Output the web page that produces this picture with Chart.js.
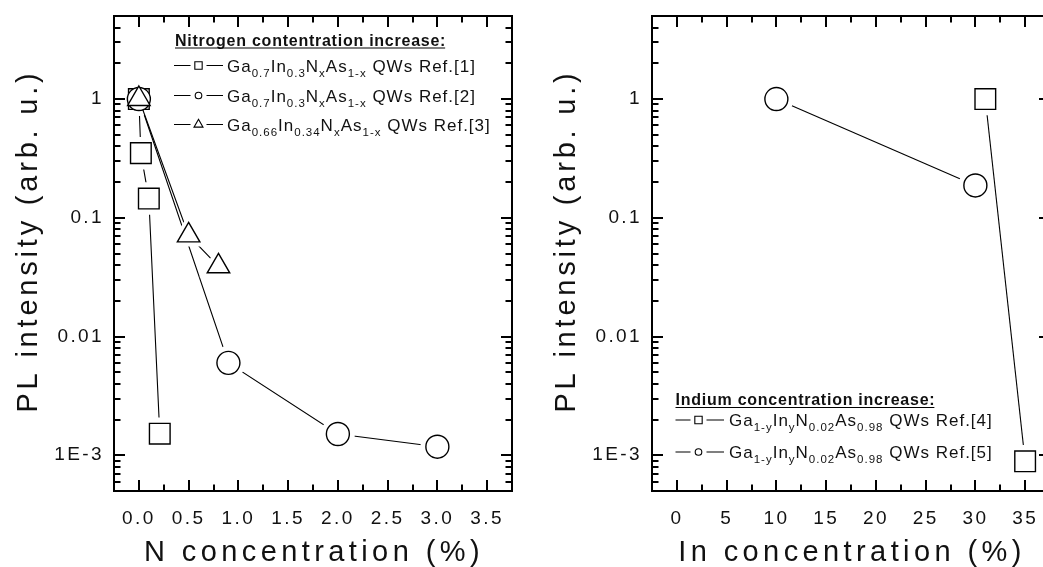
<!DOCTYPE html>
<html>
<head>
<meta charset="utf-8">
<script src="https://cdn.jsdelivr.net/npm/chart.js@4/dist/chart.umd.min.js"></script>
<style>
  html, body { margin: 0; padding: 0; background: #fff; overflow: hidden; width: 1043px; height: 567px; }
  #wrap { position: relative; width: 1043px; height: 567px; overflow: hidden; }
  canvas { position: absolute; top: 0; }
  #nPanel { left: 0; }
  #inPanel { left: 538px; }
</style>
</head>
<body>
<div id="wrap">
  <canvas id="nPanel" width="520" height="567"></canvas>
  <canvas id="inPanel" width="520" height="567"></canvas>
</div>
<script>
// PL intensity vs nitrogen content (Ga(In)NAs quantum wells)
const nitrogenRef1X = [0, 0.02, 0.1, 0.21];
const nitrogenRef1Y = [1, 0.35, 0.145, 0.00152];
const nitrogenRef2X = [0, 0.9, 2.0, 3.0];
const nitrogenRef2Y = [1, 0.006, 0.00151, 0.00118];
const nitrogenRef3X = [0, 0.5, 0.8];
const nitrogenRef3Y = [1, 0.071, 0.039];

// PL intensity vs indium content
const indiumRef4X = [31, 35];
const indiumRef4Y = [1, 0.00089];
const indiumRef5X = [10, 30];
const indiumRef5Y = [1, 0.187];

// Axis ticks
const yTickValues = [0.001, 0.01, 0.1, 1];
const yTickLabels = ['1E-3', '0.01', '0.1', '1'];
const nTickValues = [0, 0.5, 1, 1.5, 2, 2.5, 3, 3.5];
const nTickLabels = ['0.0', '0.5', '1.0', '1.5', '2.0', '2.5', '3.0', '3.5'];
const inTickValues = [0, 5, 10, 15, 20, 25, 30, 35];
const inTickLabels = ['0', '5', '10', '15', '20', '25', '30', '35'];

// Legend texts: [text, isSubscript]
const nitrogenLegendTitle = 'Nitrogen contentration increase:';
const nitrogenLegendRows = [
  [['Ga'], ['0.7', 1], ['In'], ['0.3', 1], ['N'], ['x', 1], ['As'], ['1-x', 1], [' QWs Ref.[1]']],
  [['Ga'], ['0.7', 1], ['In'], ['0.3', 1], ['N'], ['x', 1], ['As'], ['1-x', 1], [' QWs Ref.[2]']],
  [['Ga'], ['0.66', 1], ['In'], ['0.34', 1], ['N'], ['x', 1], ['As'], ['1-x', 1], [' QWs Ref.[3]']]
];
const indiumLegendTitle = 'Indium concentration increase:';
const indiumLegendRows = [
  [['Ga'], ['1-y', 1], ['In'], ['y', 1], ['N'], ['0.02', 1], ['As'], ['0.98', 1], [' QWs Ref.[4]']],
  [['Ga'], ['1-y', 1], ['In'], ['y', 1], ['N'], ['0.02', 1], ['As'], ['0.98', 1], [' QWs Ref.[5]']]
];

const FONT = "'Liberation Sans', Arial, Helvetica, sans-serif";
const INK = '#111';

function pts(xs, ys) { return xs.map((x, i) => ({ x, y: ys[i] })); }

// Each series: connecting line, a white knock-out under the symbols (gaps in the line), then the symbols.
function seriesDatasets(xs, ys, style, r, haloR, rank) {
  const data = pts(xs, ys);
  return [
    { data, showLine: true, pointRadius: 0, borderColor: '#000', borderWidth: 1.1, order: 100 - rank * 2 },
    { data, showLine: false, pointStyle: style, pointRadius: haloR, pointBackgroundColor: '#fff',
      pointBorderColor: '#fff', pointBorderWidth: 0, order: 99 - rank * 2 },
    { data, showLine: false, pointStyle: style, pointRadius: r, pointBackgroundColor: '#fff',
      pointBorderColor: '#000', pointBorderWidth: 1.4, order: 10 - rank }
  ];
}

function setSpacing(ctx, px) { if ('letterSpacing' in ctx) ctx.letterSpacing = px + 'px'; }

function drawRich(ctx, parts, x, y) {
  let cx = x;
  for (const [t, sub] of parts) {
    ctx.font = (sub ? '11.5px ' : '17px ') + FONT;
    setSpacing(ctx, 1);
    ctx.fillText(t, cx, sub ? y + 5 : y);
    cx += ctx.measureText(t).width;
  }
}

function noScalePadding(s) {
  s.paddingLeft = 0; s.paddingRight = 0; s.paddingTop = 0; s.paddingBottom = 0;
}

const panelDecor = {
  id: 'panelDecor',
  beforeDraw(chart) { setSpacing(chart.ctx, 2.4); },
  afterDraw(chart, args, o) {
    const ctx = chart.ctx;
    const { left, right, top, bottom } = chart.chartArea;
    const xs = chart.scales.x, ys = chart.scales.y;
    ctx.save();
    setSpacing(ctx, 0);
    ctx.strokeStyle = '#000';
    ctx.lineWidth = 2;
    ctx.beginPath();
    // x ticks (bottom and top, pointing inward)
    const xMaj = o.xTicks;
    const step = xMaj[1] - xMaj[0];
    const xMin = [];
    for (let v = xMaj[0] - step / 2; v < xs.max; v += step) if (v > xs.min) xMin.push(v);
    const xTick = (v, len) => {
      const p = Math.round(xs.getPixelForValue(v));
      ctx.moveTo(p, bottom); ctx.lineTo(p, bottom - len);
      ctx.moveTo(p, top); ctx.lineTo(p, top + len);
    };
    xMaj.forEach(v => xTick(v, 11));
    xMin.forEach(v => xTick(v, 6.5));
    // y ticks (left and right, log decades with 2..9 minors)
    const yTick = (v, len) => {
      const p = Math.round(ys.getPixelForValue(v));
      ctx.moveTo(left, p); ctx.lineTo(left + len, p);
      ctx.moveTo(right, p); ctx.lineTo(right - len, p);
    };
    for (let d = -4; d <= 0; d++) {
      for (let m = 1; m <= 9; m++) {
        const v = m * Math.pow(10, d);
        if (v <= ys.min || v >= ys.max) continue;
        yTick(v, m === 1 ? 11 : 6.5);
      }
    }
    ctx.stroke();
    ctx.strokeRect(left, top, right - left, bottom - top);

    // axis titles
    ctx.fillStyle = INK;
    ctx.font = '29px ' + FONT;
    setSpacing(ctx, 4.4);
    ctx.textAlign = 'center';
    ctx.textBaseline = 'alphabetic';
    ctx.fillText(o.xTitle, (left + right) / 2 + 1, 561);
    ctx.save();
    setSpacing(ctx, 3.8);
    ctx.translate(37, 243);
    ctx.rotate(-Math.PI / 2);
    ctx.fillText(o.yTitle, 2, 0);
    ctx.restore();

    // legend
    const L = o.legend;
    ctx.textAlign = 'left';
    ctx.font = 'bold 16px ' + FONT;
    setSpacing(ctx, 0.75);
    ctx.fillText(L.title, L.x, L.titleY);
    const tw = ctx.measureText(L.title).width;
    ctx.lineWidth = 1.2;
    ctx.beginPath();
    ctx.moveTo(L.x, L.titleY + 2.5); ctx.lineTo(L.x + tw - 1, L.titleY + 2.5);
    ctx.stroke();
    L.rows.forEach((parts, i) => {
      const y = L.rowY[i];
      ctx.lineWidth = 1.1;
      ctx.strokeStyle = '#000';
      ctx.beginPath();
      ctx.moveTo(L.lineX0, y); ctx.lineTo(L.markX - 8, y);
      ctx.moveTo(L.markX + 8, y); ctx.lineTo(L.lineX1, y);
      ctx.stroke();
      ctx.fillStyle = '#fff';
      Chart.helpers.drawPoint(ctx, { pointStyle: L.styles[i], radius: L.radii[i], borderWidth: 1.1, rotation: 0 }, L.markX, y);
      ctx.fillStyle = INK;
      ctx.textBaseline = 'alphabetic';
      drawRich(ctx, parts, L.textX, y + 6);
    });
    ctx.restore();
  }
};

function makePanel(canvasId, cfg) {
  return new Chart(document.getElementById(canvasId), {
    type: 'scatter',
    data: { datasets: cfg.datasets },
    options: {
      responsive: false,
      animation: false,
      devicePixelRatio: 1,
      events: [],
      layout: { autoPadding: false, padding: { top: 16, right: 8, left: 0, bottom: 0 } },
      plugins: { legend: { display: false }, tooltip: { enabled: false }, panelDecor: cfg.decor },
      scales: {
        x: {
          type: 'linear', position: 'bottom', min: cfg.xMin, max: cfg.xMax, bounds: 'data',
          grid: { display: false, drawTicks: false }, border: { display: false },
          afterFit: s => { s.height = 76; noScalePadding(s); },
          afterBuildTicks: s => { s.ticks = cfg.xTicks.map(v => ({ value: v })); },
          ticks: { autoSkip: false, maxRotation: 0, minRotation: 0, padding: 16, color: INK,
                   font: { family: FONT, size: 19 }, callback: (v, i) => cfg.xLabels[i] }
        },
        y: {
          type: 'logarithmic', position: 'left', min: 5e-4, max: 5, bounds: 'data',
          grid: { display: false, drawTicks: false }, border: { display: false },
          afterFit: s => { s.width = 114; noScalePadding(s); },
          afterBuildTicks: s => { s.ticks = yTickValues.map(v => ({ value: v })); },
          ticks: { autoSkip: false, padding: 10, color: INK,
                   font: { family: FONT, size: 19 }, callback: (v, i) => yTickLabels[i] }
        }
      }
    },
    plugins: [panelDecor]
  });
}

makePanel('nPanel', {
  xMin: -0.25, xMax: 3.75, xTicks: nTickValues, xLabels: nTickLabels,
  datasets: [
    ...seriesDatasets(nitrogenRef1X, nitrogenRef1Y, 'rect', 14.6, 23, 0),
    ...seriesDatasets(nitrogenRef2X, nitrogenRef2Y, 'circle', 11.5, 17, 1),
    ...seriesDatasets(nitrogenRef3X, nitrogenRef3Y, 'triangle', 13, 22, 2)
  ],
  decor: {
    xTicks: nTickValues,
    xTitle: 'N concentration (%)',
    yTitle: 'PL intensity (arb. u.)',
    legend: {
      title: nitrogenLegendTitle, x: 175, titleY: 45.5,
      rows: nitrogenLegendRows, rowY: [65.5, 95.5, 124.5],
      lineX0: 174, lineX1: 223, markX: 198.5, textX: 227,
      styles: ['rect', 'circle', 'triangle'], radii: [5.2, 3.3, 5.2]
    }
  }
});

makePanel('inPanel', {
  xMin: -2.5, xMax: 37.5, xTicks: inTickValues, xLabels: inTickLabels,
  datasets: [
    ...seriesDatasets(indiumRef4X, indiumRef4Y, 'rect', 14.6, 23, 0),
    ...seriesDatasets(indiumRef5X, indiumRef5Y, 'circle', 11.5, 17, 1)
  ],
  decor: {
    xTicks: inTickValues,
    xTitle: 'In concentration (%)',
    yTitle: 'PL intensity (arb. u.)',
    legend: {
      title: indiumLegendTitle, x: 137.5, titleY: 405,
      rows: indiumLegendRows, rowY: [420, 452],
      lineX0: 137.5, lineX1: 186, markX: 160.5, textX: 191,
      styles: ['rect', 'circle'], radii: [5.2, 3.3]
    }
  }
});
</script>
</body>
</html>
